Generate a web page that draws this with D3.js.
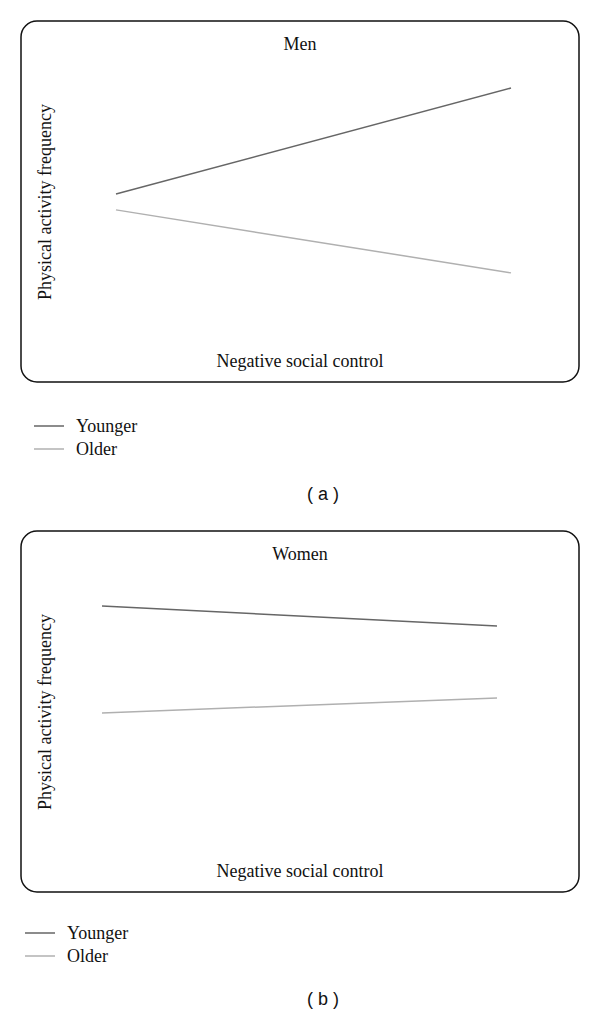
<!DOCTYPE html>
<html>
<head>
<meta charset="utf-8">
<script src="https://cdn.jsdelivr.net/npm/d3@7"></script>
<style>
  body { margin: 0; background: #fff; }
  svg text { font-family: "Liberation Serif", "DejaVu Serif", serif; fill: #111; }
</style>
</head>
<body>
<svg id="chart"></svg>
<script>
// x: low / high negative social control
const levels = [0, 1];
const seriesNames = ['Younger', 'Older'];
const seriesColors = ['#666666', '#b0b0b0'];
const menYounger = [5.61, 9.39];
const menOlder = [5.04, 2.79];
const womenYounger = [9.11, 8.39];
const womenOlder = [5.29, 5.82];

const panels = [
  { title: 'Men', tag: '( a )', top: 21, x0: 116, x1: 511, legendX: 34, legendY: 405, tagY: 479, series: [menYounger, menOlder] },
  { title: 'Women', tag: '( b )', top: 531, x0: 102, x1: 497, legendX: 25, legendY: 402, tagY: 474, series: [womenYounger, womenOlder] }
];

const width = 600;
const height = 1017;
const svg = d3.select('#chart').attr('width', width).attr('height', height);

panels.forEach(p => {
  const g = svg.append('g').attr('transform', `translate(0,${p.top})`);

  g.append('rect')
    .attr('x', 21).attr('y', 0)
    .attr('width', 558).attr('height', 361)
    .attr('rx', 16).attr('ry', 16)
    .attr('fill', 'none')
    .attr('stroke', '#111')
    .attr('stroke-width', 1.5);

  const xScale = d3.scaleLinear().domain([0, 1]).range([p.x0, p.x1]);
  const yScale = d3.scaleLinear().domain([0, 10]).range([330, 50]);

  const line = d3.line()
    .x((d, i) => xScale(levels[i]))
    .y(d => yScale(d));

  g.selectAll('path.series')
    .data(p.series)
    .enter()
    .append('path')
    .attr('class', 'series')
    .attr('d', d => line(d))
    .attr('fill', 'none')
    .attr('stroke', (d, i) => seriesColors[i])
    .attr('stroke-width', 1.5);

  g.append('text')
    .attr('x', 300).attr('y', 29)
    .attr('text-anchor', 'middle')
    .attr('font-size', 18)
    .text(p.title);

  g.append('text')
    .attr('transform', `translate(51,${181}) rotate(-90)`)
    .attr('text-anchor', 'middle')
    .attr('font-size', 18)
    .text('Physical activity frequency');

  g.append('text')
    .attr('x', 300).attr('y', 346)
    .attr('text-anchor', 'middle')
    .attr('font-size', 18)
    .text('Negative social control');

  // legend
  const legend = g.append('g').attr('transform', `translate(${p.legendX},${p.legendY})`);
  seriesNames.forEach((name, i) => {
    const row = legend.append('g').attr('transform', `translate(0,${i * 23})`);
    row.append('line')
      .attr('x1', 0).attr('x2', 30)
      .attr('y1', 0).attr('y2', 0)
      .attr('stroke', seriesColors[i])
      .attr('stroke-width', 1.5);
    row.append('text')
      .attr('x', 42).attr('y', 6)
      .attr('font-size', 18)
      .text(name);
  });

  g.append('text')
    .attr('x', 323).attr('y', p.tagY)
    .attr('text-anchor', 'middle')
    .attr('font-size', 18)
    .style('font-family', '"Liberation Sans", Arial, sans-serif')
    .text(p.tag);
});
</script>
</body>
</html>
